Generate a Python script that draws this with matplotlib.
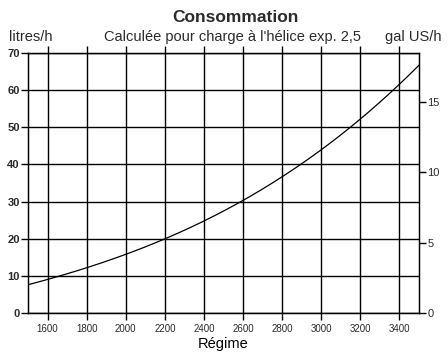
import numpy as np
import matplotlib.pyplot as plt

plt.rcParams['font.family'] = ['Liberation Sans', 'DejaVu Sans']
plt.rcParams['text.color'] = '#2b2b2b'
plt.rcParams['xtick.labelcolor'] = '#2b2b2b'
plt.rcParams['ytick.labelcolor'] = '#2b2b2b'

regime = [1500, 1600, 1800, 2000, 2200, 2400, 2600, 2800, 3000, 3200, 3400, 3500]
litres = [7.8, 9.1, 11.9, 15.4, 19.9, 25.4, 30.6, 36.8, 43.4, 52.0, 61.8, 66.8]
x_ticks = [1600, 1800, 2000, 2200, 2400, 2600, 2800, 3000, 3200, 3400]
y_ticks = [0, 10, 20, 30, 40, 50, 60, 70]
gal_ticks = [0, 5, 10, 15]
litres_per_gal = 3.785

# smooth the read points
xs = np.linspace(regime[0], regime[-1], 200)
coef = np.polyfit(regime, litres, 3)
ys = np.polyval(coef, xs)

fig = plt.figure(figsize=(4.48, 3.57), dpi=100)
ax = fig.add_axes([0.0625, 0.1232, 0.8728, 0.7283])
ax.plot(xs, ys, color='black', lw=0.9)
ax.set_xlim(1500, 3500)
ax.set_ylim(0, 70)
ax.set_xticks(x_ticks)
ax.set_yticks(y_ticks)
ax.grid(True, color='black', lw=1.0)
ax.set_axisbelow(True)
for s in ax.spines.values():
    s.set_linewidth(1.0)
ax.tick_params(axis='x', direction='out', length=5, width=1.0, top=True, pad=3, labelsize=7)
ax.tick_params(axis='y', direction='out', length=5, width=1.0, pad=1, labelsize=8)
for lab in ax.get_yticklabels():
    lab.set_fontweight('bold')
ax.set_xlabel('Régime', fontsize=10.5, labelpad=2)

ax2 = ax.twinx()
ax2.set_ylim(0, 70 / litres_per_gal)
ax2.set_yticks(gal_ticks)
ax2.tick_params(axis='y', direction='out', length=5, width=1.0, labelsize=8, pad=1)

fig.text(0.525, 0.95, 'Consommation', ha='center', va='center', fontsize=12.5, fontweight='bold')
fig.text(0.02, 0.895, 'litres/h', ha='left', va='center', fontsize=10.5)
fig.text(0.518, 0.895, "Calculée pour charge à l'hélice exp. 2,5", ha='center', va='center', fontsize=10.5)
fig.text(0.985, 0.895, 'gal US/h', ha='right', va='center', fontsize=10.5)

fig.savefig('out.png', dpi=100)
